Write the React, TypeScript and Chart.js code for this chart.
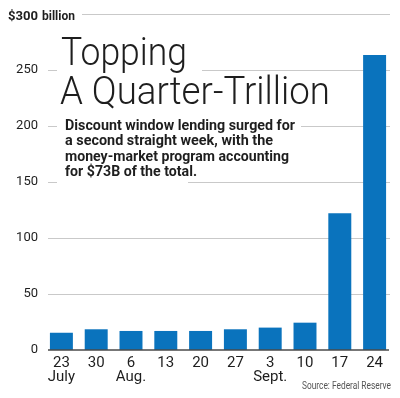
import React, { useEffect, useRef } from 'react';
import { Chart, registerables } from 'chart.js';

Chart.register(...registerables);

const dates = ['23', '30', '6', '13', '20', '27', '3', '10', '17', '24'];
const months = ['July', '', 'Aug.', '', '', '', 'Sept.', '', '', ''];
const lending = [15.4, 18.5, 17, 17, 17, 18.5, 20, 24.4, 122, 263.5];
const yTicks = [0, 50, 100, 150, 200, 250, 300];
const unitLabel = ['$300', 'billion'];
const titleLines = ['Topping', 'A Quarter-Trillion'];
const subtitleLines = [
  'Discount window lending surged for',
  'a second straight week, with the',
  'money-market program accounting',
  'for $73B of the total.',
];
const sourceText = 'Source: Federal Reserve';

const BAR = '#0a73bd';
const GRID = '#c9c9c9';
const INK = '#1e1e1e';

function fitText(ctx: CanvasRenderingContext2D, text: string, x: number, y: number, width: number, font: string, color: string) {
  ctx.save();
  ctx.font = font;
  const w = ctx.measureText(text).width;
  ctx.translate(x, y);
  ctx.scale(width / w, 1);
  ctx.fillStyle = color;
  ctx.textBaseline = 'alphabetic';
  ctx.textAlign = 'left';
  ctx.fillText(text, 0, 0);
  ctx.restore();
}

const decorPlugin = {
  id: 'decor',
  beforeDatasetsDraw(chart: any) {
    const ctx = chart.ctx as CanvasRenderingContext2D;
    const y = chart.scales.y;
    ctx.save();
    ctx.strokeStyle = GRID;
    ctx.lineWidth = 1.2;
    yTicks.forEach((v) => {
      if (v === 0) return;
      const py = Math.round(y.getPixelForValue(v)) + 0.5;
      ctx.beginPath();
      ctx.moveTo(v === 300 ? 82 : 48, py);
      ctx.lineTo(390, py);
      ctx.stroke();
    });
    ctx.restore();
  },
  afterDatasetsDraw(chart: any) {
    const ctx = chart.ctx as CanvasRenderingContext2D;
    const y = chart.scales.y;
    // baseline
    ctx.save();
    ctx.strokeStyle = '#4a4a4a';
    ctx.lineWidth = 1.5;
    const by = y.getPixelForValue(0);
    ctx.beginPath();
    ctx.moveTo(48, by);
    ctx.lineTo(389, by);
    ctx.stroke();
    // white masks behind headline text
    ctx.fillStyle = '#ffffff';
    ctx.fillRect(57, 36, 145, 44);
    ctx.fillRect(57, 116, 244, 16);
    ctx.fillRect(57, 164, 131, 22);
    ctx.restore();

    // unit label
    fitText(ctx, unitLabel[0], 8, 20, 30, 'bold 13px Roboto', INK);
    fitText(ctx, unitLabel[1], 42, 20, 33, 'bold 12px Roboto', INK);

    // title
    fitText(ctx, titleLines[0], 61, 65, 126, '300 38px Roboto', INK);
    fitText(ctx, titleLines[1], 60, 104, 270, '300 38px Roboto', INK);

    // subtitle
    const subW = [230, 208, 224, 132];
    const subY = [129.5, 145, 160.5, 176];
    subtitleLines.forEach((t, i) => {
      fitText(ctx, t, 65, subY[i], subW[i], 'bold 15px Roboto', INK);
    });

    // source
    fitText(ctx, sourceText, 302, 389, 89, '10px Roboto', '#555555');
  },
};

export default function App() {
  const ref = useRef<HTMLCanvasElement | null>(null);

  useEffect(() => {
    document.body.style.margin = '0';
    const canvas = ref.current;
    if (!canvas) return;
    const chart = new Chart(canvas, {
      type: 'bar',
      data: {
        labels: dates.map((d, i) => [d, months[i]]),
        datasets: [
          {
            data: lending,
            backgroundColor: BAR,
            borderWidth: 0,
            categoryPercentage: 1,
            barPercentage: 0.66,
          },
        ],
      },
      options: {
        animation: false,
        responsive: false,
        maintainAspectRatio: false,
        devicePixelRatio: 1,
        layout: { padding: { top: 14, right: 8, left: 0, bottom: 0 } },
        plugins: { legend: { display: false }, tooltip: { enabled: false }, title: { display: false } },
        scales: {
          x: {
            offset: true,
            grid: { display: false, drawTicks: false },
            border: { display: false },
            ticks: {
              padding: 6,
              color: INK,
              font: { family: 'Roboto', size: 15, lineHeight: 0.95 },
              maxRotation: 0,
              autoSkip: false,
            },
            afterFit: (s: any) => {
              s.height = 48;
            },
          },
          y: {
            min: 0,
            max: 300,
            afterBuildTicks: (s: any) => {
              s.ticks = yTicks.map((v) => ({ value: v }));
            },
            grid: { display: false, drawTicks: false },
            border: { display: false },
            ticks: {
              padding: 6,
              color: INK,
              font: { family: 'Roboto', size: 13 },
              callback: (v: any) => (v === 300 ? '' : String(v)),
            },
            afterFit: (s: any) => {
              s.width = 44;
            },
          },
        },
      },
      plugins: [decorPlugin],
    });
    return () => chart.destroy();
  }, []);

  return (
    <div style={{ position: 'absolute', left: 0, top: 0, width: 400, height: 398, background: '#fff' }}>
      <canvas ref={ref} width={400} height={398} style={{ width: 400, height: 398, display: 'block' }} />
    </div>
  );
}
